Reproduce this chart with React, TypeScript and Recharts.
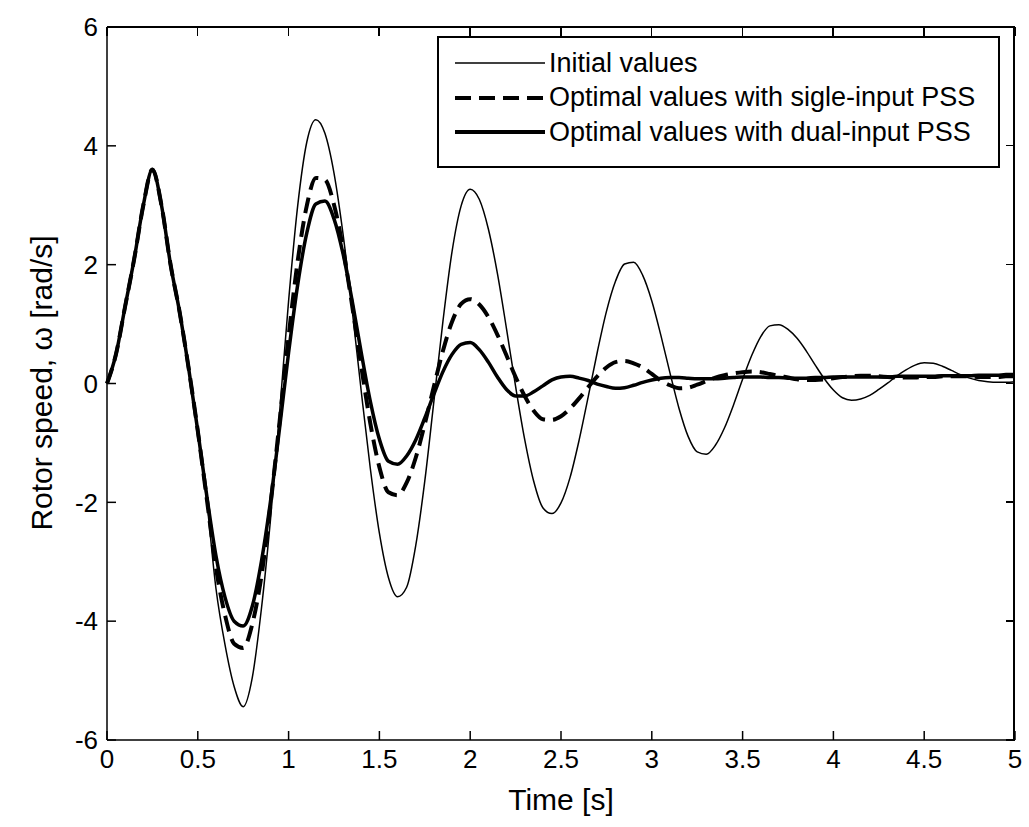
import React from 'react';
import { LineChart, Line, XAxis, YAxis, Label } from 'recharts';

// time samples [s]
const time = [
  0, 0.05, 0.1, 0.15, 0.2, 0.25, 0.3, 0.35, 0.4, 0.45,
  0.5, 0.55, 0.6, 0.65, 0.7, 0.75, 0.8, 0.85, 0.9, 0.95,
  1, 1.05, 1.1, 1.15, 1.2, 1.25, 1.3, 1.35, 1.4, 1.45,
  1.5, 1.55, 1.6, 1.65, 1.7, 1.75, 1.8, 1.85, 1.9, 1.95,
  2, 2.05, 2.1, 2.15, 2.2, 2.25, 2.3, 2.35, 2.4, 2.45,
  2.5, 2.55, 2.6, 2.65, 2.7, 2.75, 2.8, 2.85, 2.9, 2.95,
  3, 3.05, 3.1, 3.15, 3.2, 3.25, 3.3, 3.35, 3.4, 3.45,
  3.5, 3.55, 3.6, 3.65, 3.7, 3.75, 3.8, 3.85, 3.9, 3.95,
  4, 4.05, 4.1, 4.15, 4.2, 4.25, 4.3, 4.35, 4.4, 4.45,
  4.5, 4.55, 4.6, 4.65, 4.7, 4.75, 4.8, 4.85, 4.9, 4.95,
  5,
];

// rotor speed, initial values
const initialValues = [
  0, 0.5, 1.3, 2.1, 3.0, 3.6, 3.0, 2.0, 1.2, 0.25,
  -0.8, -2.0, -3.45, -4.4, -5.1, -5.44, -4.95, -3.8, -2.3, -0.5,
  1.39, 2.99, 4.06, 4.44, 4.21, 3.54, 2.51, 1.24, -0.13, -1.43,
  -2.52, -3.27, -3.59, -3.43, -2.73, -1.64, -0.3, 1.05, 2.22, 2.99,
  3.27, 3.1, 2.6, 1.85, 0.92, -0.05, -0.94, -1.65, -2.09, -2.19,
  -2.01, -1.58, -0.95, -0.22, 0.53, 1.21, 1.72, 2.01, 2.04, 1.82,
  1.39, 0.81, 0.18, -0.42, -0.89, -1.15, -1.19, -1.04, -0.75, -0.36,
  0.07, 0.47, 0.79, 0.97, 0.99, 0.91, 0.76, 0.55, 0.31, 0.08,
  -0.11, -0.24, -0.28, -0.26, -0.2, -0.1, 0.01, 0.13, 0.23, 0.31,
  0.35, 0.34, 0.29, 0.22, 0.15, 0.09, 0.05, 0.03, 0.02, 0.02,
  0.03,
];

// optimal values, single-input PSS
const singleInputPss = [
  0, 0.5, 1.3, 2.1, 3.0, 3.6, 3.0, 2.0, 1.2, 0.25,
  -0.8, -1.95, -3.1, -3.9, -4.38, -4.45, -4.05, -3.25, -2.05, -0.65,
  0.79, 2.06, 2.99, 3.46, 3.43, 3.01, 2.27, 1.31, 0.29, -0.67,
  -1.41, -1.83, -1.88, -1.67, -1.25, -0.68, -0.05, 0.55, 1.04, 1.34,
  1.42, 1.33, 1.12, 0.82, 0.47, 0.11, -0.21, -0.46, -0.6, -0.61,
  -0.55, -0.42, -0.25, -0.06, 0.12, 0.27, 0.36, 0.38, 0.34, 0.27,
  0.16, 0.05, -0.03, -0.08, -0.07, -0.02, 0.04, 0.1, 0.14, 0.17,
  0.19, 0.2, 0.19, 0.16, 0.13, 0.1, 0.07, 0.06, 0.06, 0.07,
  0.09, 0.11, 0.12, 0.13, 0.13, 0.12, 0.11, 0.1, 0.1, 0.1,
  0.11, 0.11, 0.12, 0.12, 0.12, 0.12, 0.11, 0.11, 0.11, 0.12,
  0.12,
];

// optimal values, dual-input PSS
const dualInputPss = [
  0, 0.5, 1.3, 2.1, 3.0, 3.6, 3.0, 2.0, 1.2, 0.25,
  -0.8, -1.9, -2.9, -3.6, -4.0, -4.08, -3.75, -3.0, -1.99, -0.76,
  0.52, 1.66, 2.53, 3.02, 3.07, 2.77, 2.18, 1.39, 0.52, -0.3,
  -0.94, -1.31, -1.36, -1.22, -0.95, -0.58, -0.18, 0.2, 0.49, 0.66,
  0.69, 0.57, 0.36, 0.11, -0.1, -0.21, -0.21, -0.14, -0.04, 0.06,
  0.11, 0.12, 0.09, 0.05, -0.01, -0.05, -0.08, -0.07, -0.03, 0.02,
  0.06, 0.09, 0.1, 0.1, 0.09, 0.08, 0.08, 0.08, 0.09, 0.1,
  0.11, 0.11, 0.11, 0.1, 0.1, 0.09, 0.09, 0.09, 0.1, 0.1,
  0.11, 0.11, 0.11, 0.11, 0.11, 0.11, 0.11, 0.12, 0.12, 0.12,
  0.12, 0.12, 0.13, 0.13, 0.13, 0.13, 0.14, 0.14, 0.14, 0.15,
  0.15,
];

const xTicks = [0, 0.5, 1, 1.5, 2, 2.5, 3, 3.5, 4, 4.5, 5];
const yTicks = [-6, -4, -2, 0, 2, 4, 6];

const seriesNames = [
  'Initial values',
  'Optimal values with sigle-input PSS',
  'Optimal values with dual-input PSS',
];

const data = time.map((t, i) => ({
  t,
  initial: initialValues[i],
  single: singleInputPss[i],
  dual: dualInputPss[i],
}));

const X_MAX = 5;
const Y_MAX = 6;

// plot box in page pixels (chart margins + axis sizes)
const PLOT = { left: 107, top: 27, right: 1015, bottom: 740 };
const TICK_LEN = 9;

const FONT = '"Liberation Sans", Arial, sans-serif';
const tickStyle = { fontSize: 26, fill: '#000', fontFamily: FONT };

// line samples drawn like the matlab legend
const legendSamples = [
  { strokeWidth: 1.5, dash: undefined },
  { strokeWidth: 4, dash: '16 8' },
  { strokeWidth: 4, dash: undefined },
];

const MatlabLegend = () => (
  <div
    style={{
      position: 'absolute',
      left: 437,
      top: 36,
      width: 563,
      height: 132,
      border: '2px solid #000',
      background: '#fff',
      boxSizing: 'border-box',
      fontFamily: FONT,
      fontSize: 27,
      color: '#000',
      paddingTop: 8,
    }}
  >
    {seriesNames.map((name, i) => (
      <div key={name} style={{ display: 'flex', alignItems: 'center', height: 34.5 }}>
        <svg width={110} height={20} style={{ flex: 'none' }}>
          <line
            x1={16}
            y1={10}
            x2={106}
            y2={10}
            stroke="#000"
            strokeWidth={legendSamples[i].strokeWidth}
            strokeDasharray={legendSamples[i].dash}
          />
        </svg>
        <span style={{ whiteSpace: 'nowrap' }}>{name}</span>
      </div>
    ))}
  </div>
);

// top and right edges of the matlab box, ticks pointing inward
const BoxFrame = () => {
  const w = PLOT.right - PLOT.left;
  const h = PLOT.bottom - PLOT.top;
  return (
    <>
      <div
        style={{
          position: 'absolute',
          left: PLOT.left,
          top: PLOT.top - 1,
          width: w,
          height: h,
          borderTop: '2px solid #000',
          borderRight: '2px solid #000',
          boxSizing: 'border-box',
          pointerEvents: 'none',
        }}
      />
      {xTicks.map((v) => (
        <div
          key={`t${v}`}
          style={{
            position: 'absolute',
            left: PLOT.left + (v / X_MAX) * w - 1,
            top: PLOT.top,
            width: 1.5,
            height: TICK_LEN,
            background: '#000',
          }}
        />
      ))}
      {yTicks.map((v) => (
        <div
          key={`r${v}`}
          style={{
            position: 'absolute',
            left: PLOT.right - TICK_LEN,
            top: PLOT.bottom - ((v + Y_MAX) / (2 * Y_MAX)) * h - 1,
            width: TICK_LEN,
            height: 1.5,
            background: '#000',
          }}
        />
      ))}
    </>
  );
};

export default function App() {
  return (
    <div style={{ position: 'absolute', left: 0, top: 0, width: 1029, height: 827 }}>
      <LineChart width={1029} height={827} data={data} margin={{ top: 27, right: 14, bottom: 27, left: 37 }}>
        <XAxis
          dataKey="t"
          type="number"
          domain={[0, X_MAX]}
          ticks={xTicks}
          height={60}
          tickSize={-9}
          tickMargin={19}
          tick={tickStyle}
          stroke="#000"
          strokeWidth={1.5}
          interval={0}
        >
          <Label
            content={() => (
              <text x={561} y={810} textAnchor="middle" fontSize={30} fontFamily={FONT} fill="#000">
                Time [s]
              </text>
            )}
          />
        </XAxis>
        <YAxis
          type="number"
          domain={[-Y_MAX, Y_MAX]}
          ticks={yTicks}
          width={70}
          tickSize={-9}
          tickMargin={18}
          tick={tickStyle}
          stroke="#000"
          strokeWidth={1.5}
          interval={0}
        >
          <Label
            content={() => (
              <text
                x={52}
                y={383}
                transform="rotate(-90 52 383)"
                textAnchor="middle"
                fontSize={30}
                fontFamily={FONT}
                fill="#000"
              >
                Rotor speed, ω [rad/s]
              </text>
            )}
          />
        </YAxis>
        <Line
          dataKey="initial"
          name={seriesNames[0]}
          type="monotone"
          stroke="#000"
          strokeWidth={1.5}
          dot={false}
          isAnimationActive={false}
        />
        <Line
          dataKey="single"
          name={seriesNames[1]}
          type="monotone"
          stroke="#000"
          strokeWidth={4}
          strokeDasharray="16 8"
          dot={false}
          isAnimationActive={false}
        />
        <Line
          dataKey="dual"
          name={seriesNames[2]}
          type="monotone"
          stroke="#000"
          strokeWidth={3.5}
          dot={false}
          isAnimationActive={false}
        />
      </LineChart>
      <BoxFrame />
      <MatlabLegend />
    </div>
  );
}
